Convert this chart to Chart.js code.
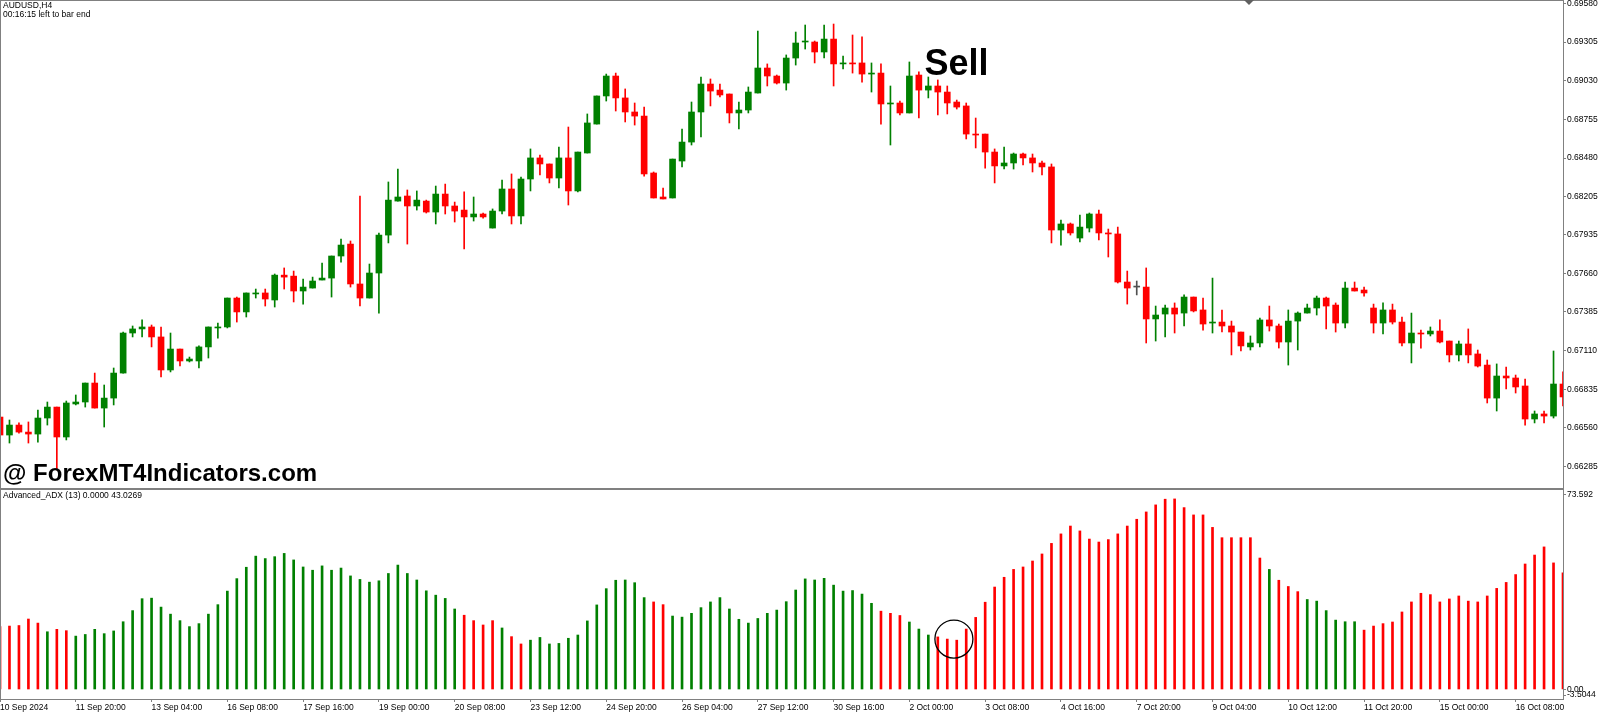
<!DOCTYPE html>
<html>
<head>
<meta charset="utf-8">
<title>AUDUSD,H4 - Advanced_ADX</title>
<script src="https://cdn.jsdelivr.net/npm/chart.js@4.4.1/dist/chart.umd.min.js"></script>
<style>
    html, body { margin: 0; padding: 0; background: #fff; overflow: hidden; }
    canvas { display: block; }
</style>
</head>
<body>
<canvas id="mt4Chart" width="1600" height="713"></canvas>
<script>
// H4 candles, oldest first
const opens = [
    0.66637, 0.66509, 0.66580, 0.66530, 0.66516, 0.66630, 0.66708, 0.66495, 0.66730, 0.66744,
    0.66879, 0.66701, 0.66772, 0.66950, 0.67235, 0.67264, 0.67278, 0.67207, 0.66972, 0.67121,
    0.67036, 0.67036, 0.67136, 0.67271, 0.67278, 0.67484, 0.67385, 0.67513, 0.67520, 0.67470,
    0.67647, 0.67640, 0.67534, 0.67555, 0.67612, 0.67626, 0.67783, 0.67868, 0.67584, 0.67484,
    0.67662, 0.67932, 0.68174, 0.68210, 0.68139, 0.68174, 0.68096, 0.68224, 0.68139, 0.68110,
    0.68061, 0.68082, 0.67982, 0.68103, 0.68260, 0.68068, 0.68331, 0.68481, 0.68438, 0.68338,
    0.68481, 0.68246, 0.68516, 0.68722, 0.68922, 0.69064, 0.68908, 0.68808, 0.68779, 0.68374,
    0.68203, 0.68196, 0.68459, 0.68594, 0.68808, 0.69007, 0.68964, 0.68936, 0.68801, 0.68822,
    0.68943, 0.69121, 0.69064, 0.69014, 0.69192, 0.69306, 0.69306, 0.69235, 0.69327, 0.69150,
    0.69157, 0.69157, 0.69078, 0.69085, 0.68865, 0.68872, 0.68801, 0.69071, 0.68964, 0.68993,
    0.68950, 0.68879, 0.68851, 0.68651, 0.68651, 0.68523, 0.68424, 0.68445, 0.68509, 0.68481,
    0.68445, 0.68417, 0.67968, 0.68011, 0.67911, 0.67982, 0.68082, 0.67947, 0.67940, 0.67598,
    0.67562, 0.67562, 0.67335, 0.67370, 0.67413, 0.67377, 0.67491, 0.67399, 0.67306, 0.67313,
    0.67285, 0.67242, 0.67136, 0.67164, 0.67328, 0.67285, 0.67171, 0.67320, 0.67377, 0.67413,
    0.67484, 0.67434, 0.67306, 0.67555, 0.67541, 0.67413, 0.67306, 0.67399, 0.67313, 0.67164,
    0.67235, 0.67228, 0.67249, 0.67178, 0.67079, 0.67157, 0.67086, 0.67007, 0.66772, 0.66929,
    0.66915, 0.66858, 0.66623, 0.66659, 0.66644, 0.66872
];
const highs = [
    0.66708, 0.66616, 0.66595, 0.66602, 0.66687, 0.66744, 0.66708, 0.66751, 0.66794, 0.66879,
    0.66950, 0.66865, 0.66986, 0.67242, 0.67285, 0.67328, 0.67292, 0.67278, 0.67235, 0.67121,
    0.67064, 0.67143, 0.67278, 0.67306, 0.67484, 0.67491, 0.67520, 0.67548, 0.67548, 0.67655,
    0.67698, 0.67676, 0.67619, 0.67633, 0.67733, 0.67783, 0.67904, 0.67890, 0.68210, 0.67726,
    0.67947, 0.68310, 0.68402, 0.68253, 0.68246, 0.68181, 0.68281, 0.68295, 0.68167, 0.68239,
    0.68203, 0.68089, 0.68118, 0.68324, 0.68367, 0.68345, 0.68545, 0.68502, 0.68438, 0.68559,
    0.68701, 0.68523, 0.68794, 0.68922, 0.69078, 0.69085, 0.68972, 0.68872, 0.68843, 0.68381,
    0.68267, 0.68473, 0.68687, 0.68879, 0.69057, 0.69043, 0.69007, 0.68936, 0.68879, 0.68986,
    0.69384, 0.69150, 0.69071, 0.69214, 0.69377, 0.69427, 0.69313, 0.69427, 0.69434, 0.69206,
    0.69356, 0.69342, 0.69157, 0.69150, 0.68993, 0.68886, 0.69164, 0.69093, 0.69057, 0.69036,
    0.68993, 0.68893, 0.68872, 0.68765, 0.68651, 0.68545, 0.68559, 0.68516, 0.68516, 0.68509,
    0.68459, 0.68438, 0.68039, 0.68018, 0.68075, 0.68089, 0.68110, 0.67975, 0.67989, 0.67676,
    0.67605, 0.67698, 0.67427, 0.67434, 0.67449, 0.67506, 0.67491, 0.67484, 0.67626, 0.67399,
    0.67320, 0.67242, 0.67214, 0.67342, 0.67427, 0.67299, 0.67399, 0.67385, 0.67441, 0.67498,
    0.67491, 0.67449, 0.67598, 0.67598, 0.67562, 0.67441, 0.67449, 0.67441, 0.67349, 0.67377,
    0.67256, 0.67278, 0.67328, 0.67178, 0.67178, 0.67264, 0.67114, 0.67043, 0.67015, 0.66993,
    0.66936, 0.66908, 0.66680, 0.66680, 0.67107, 0.66958
];
const lows = [
    0.66417, 0.66452, 0.66523, 0.66452, 0.66459, 0.66580, 0.66260, 0.66474, 0.66723, 0.66708,
    0.66701, 0.66566, 0.66723, 0.66950, 0.67207, 0.67207, 0.67136, 0.66922, 0.66958, 0.67000,
    0.67029, 0.66986, 0.67057, 0.67199, 0.67271, 0.67313, 0.67349, 0.67484, 0.67427, 0.67420,
    0.67548, 0.67456, 0.67441, 0.67555, 0.67612, 0.67491, 0.67740, 0.67562, 0.67427, 0.67484,
    0.67377, 0.67876, 0.68174, 0.67868, 0.68110, 0.68089, 0.68011, 0.68082, 0.68025, 0.67833,
    0.68032, 0.68053, 0.67982, 0.68082, 0.68011, 0.68011, 0.68246, 0.68360, 0.68303, 0.68267,
    0.68146, 0.68239, 0.68516, 0.68722, 0.68886, 0.68815, 0.68737, 0.68715, 0.68352, 0.68196,
    0.68189, 0.68196, 0.68417, 0.68573, 0.68630, 0.68851, 0.68915, 0.68730, 0.68687, 0.68801,
    0.68943, 0.68993, 0.69007, 0.68964, 0.69142, 0.69256, 0.69157, 0.69192, 0.68993, 0.69114,
    0.69085, 0.69021, 0.68950, 0.68722, 0.68573, 0.68787, 0.68801, 0.68765, 0.68908, 0.68787,
    0.68794, 0.68829, 0.68616, 0.68552, 0.68409, 0.68303, 0.68402, 0.68402, 0.68431, 0.68381,
    0.68360, 0.67876, 0.67861, 0.67932, 0.67883, 0.67954, 0.67897, 0.67776, 0.67591, 0.67441,
    0.67506, 0.67164, 0.67178, 0.67207, 0.67235, 0.67285, 0.67385, 0.67256, 0.67235, 0.67242,
    0.67079, 0.67107, 0.67114, 0.67136, 0.67249, 0.67128, 0.67007, 0.67114, 0.67377, 0.67363,
    0.67264, 0.67242, 0.67271, 0.67534, 0.67498, 0.67235, 0.67228, 0.67299, 0.67143, 0.67022,
    0.67128, 0.67214, 0.67164, 0.67029, 0.67036, 0.67022, 0.66993, 0.66737, 0.66680, 0.66837,
    0.66808, 0.66580, 0.66595, 0.66595, 0.66630, 0.66716
];
const closes = [
    0.66509, 0.66580, 0.66530, 0.66516, 0.66630, 0.66708, 0.66495, 0.66737, 0.66744, 0.66879,
    0.66701, 0.66772, 0.66950, 0.67235, 0.67264, 0.67278, 0.67207, 0.66972, 0.67121, 0.67036,
    0.67050, 0.67136, 0.67278, 0.67278, 0.67484, 0.67385, 0.67520, 0.67520, 0.67477, 0.67647,
    0.67633, 0.67534, 0.67562, 0.67605, 0.67626, 0.67783, 0.67861, 0.67584, 0.67484, 0.67662,
    0.67932, 0.68181, 0.68203, 0.68139, 0.68181, 0.68096, 0.68224, 0.68139, 0.68103, 0.68061,
    0.68082, 0.68061, 0.68103, 0.68260, 0.68068, 0.68331, 0.68481, 0.68438, 0.68338, 0.68481,
    0.68246, 0.68523, 0.68730, 0.68922, 0.69064, 0.68908, 0.68808, 0.68779, 0.68367, 0.68196,
    0.68189, 0.68473, 0.68594, 0.68808, 0.69007, 0.68957, 0.68929, 0.68801, 0.68822, 0.68950,
    0.69121, 0.69064, 0.69014, 0.69192, 0.69299, 0.69313, 0.69235, 0.69327, 0.69150, 0.69157,
    0.69150, 0.69078, 0.69085, 0.68865, 0.68872, 0.68801, 0.69064, 0.68964, 0.68993, 0.68950,
    0.68872, 0.68843, 0.68651, 0.68644, 0.68523, 0.68424, 0.68445, 0.68509, 0.68481, 0.68445,
    0.68417, 0.67968, 0.68011, 0.67947, 0.67989, 0.68082, 0.67947, 0.67940, 0.67598, 0.67555,
    0.67562, 0.67335, 0.67363, 0.67413, 0.67370, 0.67491, 0.67392, 0.67299, 0.67313, 0.67285,
    0.67242, 0.67143, 0.67164, 0.67328, 0.67285, 0.67171, 0.67320, 0.67377, 0.67413, 0.67484,
    0.67427, 0.67306, 0.67555, 0.67534, 0.67520, 0.67306, 0.67399, 0.67313, 0.67164, 0.67235,
    0.67228, 0.67249, 0.67171, 0.67079, 0.67157, 0.67079, 0.67000, 0.66772, 0.66929, 0.66915,
    0.66851, 0.66623, 0.66659, 0.66644, 0.66872, 0.66780
];

// Advanced_ADX (13) histogram, same bars; g = green bar, r = red bar
const adxValues = [
    23.2, 23.4, 23.6, 26.0, 24.5, 21.3, 22.2, 21.7, 19.7, 20.3,
    22.2, 20.6, 21.6, 25.0, 29.1, 33.5, 33.7, 30.4, 27.8, 25.4,
    23.2, 24.3, 27.8, 31.3, 36.3, 40.9, 45.1, 49.2, 48.3, 49.0,
    50.2, 47.8, 45.2, 44.0, 45.6, 44.0, 44.8, 41.9, 40.6, 39.6,
    40.1, 42.8, 45.9, 42.8, 40.4, 36.4, 34.8, 33.6, 29.7, 27.4,
    25.4, 23.8, 25.4, 22.7, 19.5, 16.8, 18.2, 19.2, 16.8, 17.0,
    18.9, 20.1, 25.3, 31.2, 37.2, 40.3, 40.4, 39.4, 33.9, 32.3,
    31.3, 27.1, 26.7, 28.1, 30.2, 32.3, 33.9, 29.7, 25.9, 24.5,
    26.2, 28.1, 29.3, 32.4, 36.7, 40.8, 40.4, 41.0, 38.5, 36.3,
    36.5, 35.2, 31.8, 28.9, 28.1, 27.3, 24.9, 22.3, 20.1, 19.4,
    18.6, 18.2, 22.3, 26.6, 32.2, 37.8, 41.4, 44.3, 45.2, 47.4,
    50.0, 53.9, 57.4, 60.3, 58.5, 55.5, 54.4, 55.3, 57.4, 60.3,
    62.8, 65.5, 68.1, 70.2, 70.3, 67.1, 64.4, 64.4, 59.8, 56.0,
    56.0, 56.0, 56.0, 48.5, 44.3, 40.3, 38.0, 36.1, 33.2, 32.6,
    29.1, 25.6, 25.0, 25.0, 21.9, 23.4, 24.3, 24.9, 28.6, 32.3,
    35.5, 35.0, 32.3, 33.4, 34.5, 32.6, 32.3, 34.5, 37.3, 39.5,
    42.4, 46.3, 49.6, 52.6, 46.7, 43.03
];
const adxTrend = (
    'rrrrrgrrgg' + 'gggggggggg' + 'gggggggggg' + 'gggggggggg' + 'gggggggggr' +
    'rrrgrrgggg' + 'gggggggggr' + 'rggggggggg' + 'gggggggggg' + 'gggrrrgggr' +
    'rrrrrrrrrr' + 'rrrrrrrrrr' + 'rrrrrrrrrr' + 'rrrrgrrrgg' + 'ggggrrrrrr' +
    'rrrrrrrrrr' + 'rrrrrr'
).split('');

// axis texts
const priceTicks = [0.69580, 0.69305, 0.69030, 0.68755, 0.68480, 0.68205, 0.67935,
                    0.67660, 0.67385, 0.67110, 0.66835, 0.66560, 0.66285];
const timeLabels = ['10 Sep 2024', '11 Sep 20:00', '13 Sep 04:00', '16 Sep 08:00', '17 Sep 16:00',
                    '19 Sep 00:00', '20 Sep 08:00', '23 Sep 12:00', '24 Sep 20:00', '26 Sep 04:00',
                    '27 Sep 12:00', '30 Sep 16:00', '2 Oct 00:00', '3 Oct 08:00', '4 Oct 16:00',
                    '7 Oct 20:00', '9 Oct 04:00', '10 Oct 12:00', '11 Oct 20:00', '15 Oct 00:00',
                    '16 Oct 08:00'];
const barsPerTimeLabel = 8;
const adxAxisLabels = ['73.592', '0.00', '-3.5044'];

const GREEN = '#008000';
const RED = '#ff0000';
const DOJI = '#505050';
const FRAME = '#808080';
const FONT = '"Liberation Sans", Arial, sans-serif';

const barIndex = opens.map((_, i) => i);
const candleColors = opens.map((o, i) => closes[i] > o ? GREEN : (closes[i] < o ? RED : DOJI));
const adxColors = adxTrend.map(t => t === 'g' ? GREEN : RED);

// texts and marks laid over the chart
const mt4Overlay = {
    id: 'mt4Overlay',
    afterDraw(chart) {
        const { ctx, chartArea: area, scales } = chart;
        const sepY = scales.y.bottom;
        ctx.save();

        // frame lines
        ctx.fillStyle = FRAME;
        ctx.fillRect(0, 0, area.right, 1);
        ctx.fillRect(0, 0, 1, area.bottom);
        ctx.fillRect(0, sepY, area.right, 2);

        // chart shift marker
        ctx.fillStyle = '#606060';
        ctx.beginPath();
        ctx.moveTo(1244, 0);
        ctx.lineTo(1254, 0);
        ctx.lineTo(1249, 5);
        ctx.closePath();
        ctx.fill();

        ctx.fillStyle = '#000';
        ctx.textBaseline = 'middle';
        ctx.textAlign = 'left';
        ctx.font = '8.5px ' + FONT;
        ctx.fillText('AUDUSD,H4', 3, 6);
        ctx.fillText('00:16:15 left to bar end', 3, 15);
        ctx.fillText('Advanced_ADX (13) 0.0000 43.0269', 3, sepY + 8);

        ctx.textBaseline = 'alphabetic';
        ctx.font = 'bold 36px ' + FONT;
        ctx.fillText('Sell', scales.x.getPixelForValue(97.6), scales.y.getPixelForValue(0.6907));

        ctx.font = 'bold 24px ' + FONT;
        ctx.fillText('@ ForexMT4Indicators.com', 3, sepY - 7);

        // circled bars on the ADX histogram
        ctx.strokeStyle = '#000';
        ctx.lineWidth = 1.3;
        ctx.beginPath();
        ctx.arc(scales.x.getPixelForValue(100.7), scales.y2.getPixelForValue(18.6), 19, 0, Math.PI * 2);
        ctx.stroke();

        ctx.restore();
    }
};

const tickFont = { family: FONT, size: 8.5 };

new Chart(document.getElementById('mt4Chart').getContext('2d'), {
    type: 'bar',
    data: {
        labels: barIndex,
        datasets: [
            {
                label: 'Body',
                data: opens.map((o, i) => [o, closes[i]]),
                yAxisID: 'y',
                backgroundColor: candleColors,
                barThickness: 6,
                minBarLength: 1,
                grouped: false,
                order: 0,
            },
            {
                label: 'Wick',
                data: lows.map((l, i) => [l, highs[i]]),
                yAxisID: 'y',
                backgroundColor: candleColors,
                barThickness: 1,
                grouped: false,
                order: 1,
            },
            {
                label: 'Advanced_ADX',
                data: adxValues,
                yAxisID: 'y2',
                backgroundColor: adxColors,
                barThickness: 2,
                grouped: false,
                order: 2,
            },
        ],
    },
    options: {
        responsive: false,
        devicePixelRatio: 1,
        animation: false,
        layout: { padding: 0, autoPadding: false },
        plugins: {
            legend: { display: false },
            tooltip: { enabled: false },
        },
        scales: {
            x: {
                type: 'category',
                offset: false,
                grid: { offset: false, drawOnChartArea: false, drawTicks: true, tickLength: 3, color: FRAME },
                border: { display: true, color: FRAME, width: 1 },
                ticks: {
                    autoSkip: false,
                    maxRotation: 0,
                    minRotation: 0,
                    align: 'start',
                    padding: 1,
                    color: '#000',
                    font: tickFont,
                    callback: (v) => timeLabels[v / barsPerTimeLabel],
                },
                afterBuildTicks: (scale) => {
                    scale.ticks = scale.ticks.filter(t => t.value % barsPerTimeLabel === 0);
                },
                afterFit: (scale) => {
                    scale.height = 14;
                    scale.paddingLeft = 0;
                    scale.paddingRight = 0;
                },
            },
            y: {
                position: 'right',
                stack: 'panels',
                stackWeight: 488,
                min: 0.66132,
                max: 0.69605,
                grid: { drawOnChartArea: false, drawTicks: true, tickLength: 3, color: FRAME },
                border: { display: true, color: FRAME, width: 1 },
                ticks: {
                    autoSkip: false,
                    padding: 1,
                    color: '#000',
                    font: tickFont,
                    callback: (v) => v.toFixed(5),
                },
                afterBuildTicks: (scale) => {
                    scale.ticks = priceTicks.map(v => ({ value: v }));
                },
                afterFit: (scale) => {
                    scale.width = 37;
                    scale.paddingTop = 0;
                    scale.paddingBottom = 0;
                },
            },
            y2: {
                position: 'right',
                stack: 'panels',
                stackWeight: 211,
                min: -3.5044,
                max: 74.33,
                grid: { drawOnChartArea: false, drawTicks: true, tickLength: 3, color: FRAME },
                border: { display: true, color: FRAME, width: 1 },
                ticks: {
                    autoSkip: false,
                    padding: 1,
                    color: '#000',
                    font: tickFont,
                    callback: (v, i) => adxAxisLabels[i],
                },
                afterBuildTicks: (scale) => {
                    // labels sit just inside the panel edges, like the terminal draws them
                    scale.ticks = [{ value: 71.75 }, { value: 0 }, { value: -2.03 }];
                },
                afterFit: (scale) => {
                    scale.width = 37;
                    scale.paddingTop = 0;
                    scale.paddingBottom = 0;
                },
            },
        },
    },
    plugins: [mt4Overlay],
});
</script>
</body>
</html>
